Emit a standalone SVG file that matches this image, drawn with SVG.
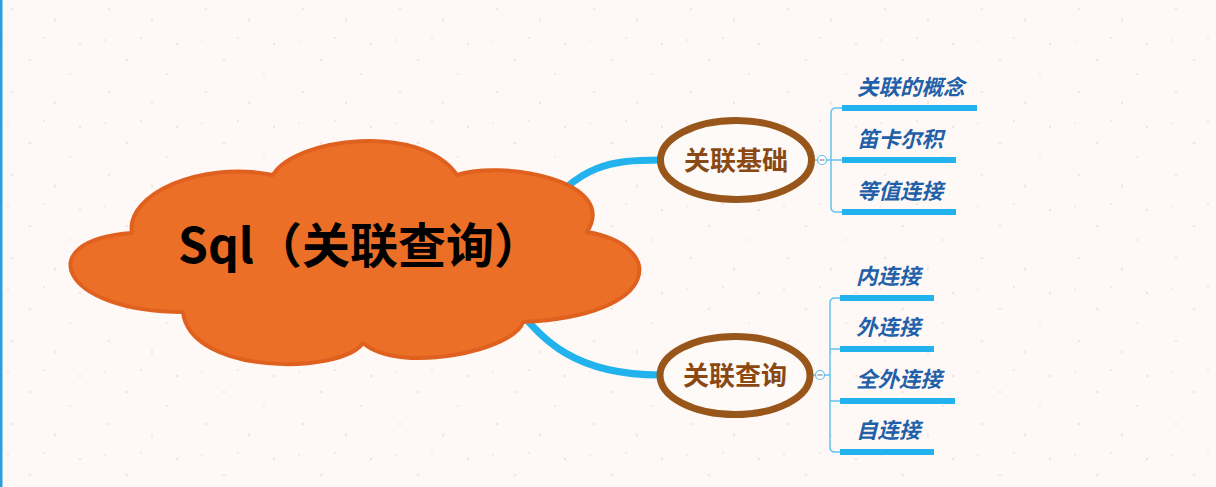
<svg xmlns="http://www.w3.org/2000/svg" width="1216" height="487" viewBox="0 0 1216 487">
  <defs>
    <style>
      .bg { fill: #FEF9F6; }
      .speck { fill: #F2C9B4; opacity: 0.5; }
      .main { fill: none; stroke: #22B3EE; stroke-width: 7; stroke-linecap: round; }
      .thin { fill: none; stroke: #64C4F0; stroke-width: 1.5; }
      .cloud { fill: #EC6F27; stroke: #E0611F; stroke-width: 4; stroke-linejoin: round; }
      .root { font-family: "Noto Sans CJK SC", "Noto Sans", sans-serif; font-weight: bold; font-size: 48px; fill: #000000; }
      .oval { fill: #FEFAF7; stroke: #98561A; stroke-width: 7; }
      .branch { font-family: "Noto Sans CJK SC", sans-serif; font-weight: bold; font-size: 26px; fill: #8A4913; text-anchor: middle; }
      .leaf { font-family: "Noto Sans CJK SC", sans-serif; font-weight: bold; font-style: italic; font-size: 21.5px; fill: #1F60A8; }
      .uline { fill: #22B3EE; }
      .toggle { fill: #FFFFFF; stroke: #5DBEEE; stroke-width: 1.2; }
      .minus { stroke: #8A8A8A; stroke-width: 1.2; }
    </style>
    <pattern id="speckles" x="0" y="0" width="97" height="83" patternUnits="userSpaceOnUse">
      <ellipse class="speck" cx="12" cy="9" rx="1.4" ry="1" />
      <ellipse class="speck" cx="55" cy="20" rx="0.8" ry="2" />
      <ellipse class="speck" cx="80" cy="44" rx="1.2" ry="1.2" />
      <ellipse class="speck" cx="30" cy="60" rx="1.6" ry="0.9" />
      <ellipse class="speck" cx="70" cy="74" rx="0.9" ry="0.9" />
      <ellipse class="speck" cx="8" cy="40" rx="0.7" ry="1.6" />
      <ellipse class="speck" cx="44" cy="38" rx="1" ry="1" />
    </pattern>
  </defs>

  <rect class="bg" x="0" y="0" width="1216" height="487" />
  <rect x="0" y="0" width="1216" height="487" fill="url(#speckles)" />
  <rect x="0" y="0" width="2.5" height="487" fill="#2A9FDC" />

  <g id="connectors">
    <path class="main" d="M 540,215 C 580,165 610,160 660,160" />
    <path class="main" d="M 505,290 C 540,345 580,375 660,375" />
    <path class="thin" d="M 815,160 H 842 M 842,108 H 836 Q 831,108 831,113 V 207 Q 831,212 836,212 H 842" />
    <path class="thin" d="M 813,375 H 830 M 840,298 H 835 Q 830,298 830,303 V 447 Q 830,452 835,452 H 840 M 830,349 H 840 M 830,401 H 840" />
  </g>

  <g id="root">
    <path class="cloud" d="M 132,233 C 125,195 200,160 273,175 C 295,138 420,122 457,175 C 500,160 620,180 587,232 C 665,245 665,315 523,322 C 515,350 400,375 363,343 C 340,375 190,375 183,312 C 60,312 30,240 132,233 Z" />
    <text class="root" x="178" y="263">Sql（关联查询）</text>
  </g>

  <g id="branch-basics">
    <ellipse class="oval" cx="736" cy="160" rx="75.5" ry="39.5" />
    <text class="branch" x="736" y="170">关联基础</text>
    <circle class="toggle" cx="822" cy="160" r="4.5" />
    <line class="minus" x1="819.5" y1="160" x2="824.5" y2="160" />
  </g>

  <g id="branch-query">
    <ellipse class="oval" cx="735" cy="375.5" rx="75" ry="39" />
    <text class="branch" x="735" y="385">关联查询</text>
    <circle class="toggle" cx="820" cy="375" r="4.5" />
    <line class="minus" x1="817.5" y1="375" x2="822.5" y2="375" />
  </g>

  <g id="leaf-concept">
    <rect class="uline" x="842" y="105" width="135" height="6" />
    <text class="leaf" x="857" y="95">关联的概念</text>
  </g>
  <g id="leaf-cartesian">
    <rect class="uline" x="842" y="157" width="114" height="6" />
    <text class="leaf" x="857" y="147">笛卡尔积</text>
  </g>
  <g id="leaf-equi">
    <rect class="uline" x="842" y="209" width="114" height="6" />
    <text class="leaf" x="857" y="199">等值连接</text>
  </g>

  <g id="leaf-inner">
    <rect class="uline" x="840" y="295" width="94" height="6" />
    <text class="leaf" x="856" y="284">内连接</text>
  </g>
  <g id="leaf-outer">
    <rect class="uline" x="840" y="346" width="94" height="6" />
    <text class="leaf" x="856" y="335">外连接</text>
  </g>
  <g id="leaf-full">
    <rect class="uline" x="840" y="398" width="115" height="6" />
    <text class="leaf" x="856" y="387">全外连接</text>
  </g>
  <g id="leaf-self">
    <rect class="uline" x="840" y="449" width="94" height="6" />
    <text class="leaf" x="856" y="438">自连接</text>
  </g>
</svg>
